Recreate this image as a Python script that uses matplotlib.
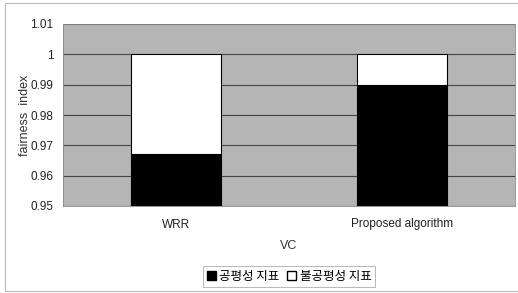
import matplotlib
matplotlib.use("Agg")
import matplotlib.pyplot as plt
from matplotlib.patches import Rectangle, Patch

categories = ["WRR", "Proposed algorithm"]
fair = [0.967, 0.990]
unfair = [0.033, 0.010]
legend_labels = ["공평성 지표", "불공평성 지표"]
yticks = [0.95, 0.96, 0.97, 0.98, 0.99, 1.0, 1.01]
ytick_labels = ["0.95", "0.96", "0.97", "0.98", "0.99", "1", "1.01"]

plt.rcParams['font.family'] = ['Liberation Sans', 'Noto Sans CJK KR', 'DejaVu Sans']

fig = plt.figure(figsize=(5.18, 2.93), dpi=100)
ax = fig.add_axes([63/518, 1-206/293, (515-63)/518, (206-24)/293])
ax.set_facecolor('#b5b5b5')

x = list(range(len(categories)))
base = 0.95
bot_heights = [f - base for f in fair]
ax.bar(x, bot_heights, bottom=base, width=0.4, color='black', edgecolor='black', linewidth=0.8, zorder=3)
ax.bar(x, unfair, bottom=fair, width=0.4, color='white', edgecolor='black', linewidth=0.8, zorder=3)

ax.set_xlim(-0.5, 1.5)
ax.set_ylim(0.95, 1.01)
ax.set_yticks(yticks)
ax.set_yticklabels(ytick_labels)
ax.set_xticks(x)
ax.set_xticklabels(categories)
ax.yaxis.grid(True, color='#454545', linewidth=0.8, zorder=1)
ax.set_axisbelow(True)
ax.tick_params(length=0, labelsize=8.5, colors='#222222')
ax.tick_params(axis='x', pad=9)
ax.tick_params(axis='y', pad=7)
for s in ax.spines.values():
    s.set_color('#888888')
    s.set_linewidth(0.6)

ax.set_ylabel("fairness  index", fontsize=9, color='#333333')
ax.yaxis.set_label_coords(-0.07, 0.5)
ax.set_xlabel("VC", fontsize=9, color='#333333', labelpad=7)

handles = [Patch(facecolor='black', edgecolor='black', label=legend_labels[0]),
           Patch(facecolor='white', edgecolor='black', label=legend_labels[1])]
leg = fig.legend(handles=handles, loc='center', bbox_to_anchor=(289/518, 1-276.5/293),
                 ncol=2, frameon=True, fancybox=False,
                 handlelength=0.7, handleheight=0.7, handletextpad=0.3,
                 columnspacing=0.6, borderpad=0.3,
                 prop={'family': ['Noto Sans CJK KR', 'DejaVu Sans'], 'size': 9})
leg.get_frame().set_edgecolor('#999999')
leg.get_frame().set_linewidth(0.6)

fig.patches.append(Rectangle((5/518, 1-291/293), 1.0, (291-3)/293, transform=fig.transFigure,
                             fill=False, edgecolor='#bbbbbb', linewidth=0.8))

fig.savefig("out.png", dpi=100)
